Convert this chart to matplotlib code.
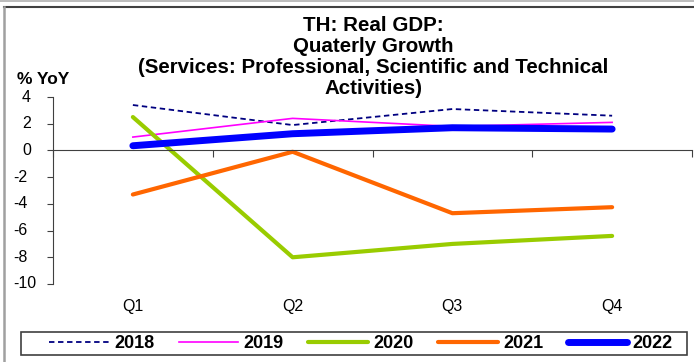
import numpy as np
import matplotlib.pyplot as plt
import matplotlib.transforms as mtransforms
from matplotlib.lines import Line2D
from matplotlib.patches import Rectangle

plt.rcParams['font.family'] = ['Liberation Sans', 'DejaVu Sans']

quarters = ['Q1', 'Q2', 'Q3', 'Q4']
y2018 = [3.4, 1.9, 3.1, 2.6]
y2019 = [1.0, 2.4, 1.8, 2.1]
y2020 = [2.5, -8.0, -7.0, -6.4]
y2021 = [-3.3, -0.1, -4.7, -4.25]
y2022 = [0.35, 1.25, 1.7, 1.6]
yticks = [4, 2, 0, -2, -4, -6, -8, -10]
title_lines = ['TH: Real GDP:', 'Quaterly Growth',
               '(Services: Professional, Scientific and Technical', 'Activities)']

W, H = 694, 362
fig = plt.figure(figsize=(W / 100, H / 100), dpi=100)

def px(x, y):
    return x / W, 1 - y / H

# sheet frame lines
fig.add_artist(Line2D([0, 1], [1 - 1 / H] * 2, transform=fig.transFigure, color='#b0b0b0', lw=1.2))
fig.add_artist(Line2D([3.5 / W, 1], [1 - 7 / H] * 2, transform=fig.transFigure, color='#404040', lw=1.5))
fig.add_artist(Line2D([3.5 / W] * 2, [0, 1 - 7 / H], transform=fig.transFigure, color='#a0a0a0', lw=1.8))

ax = fig.add_axes([53 / W, 1 - 284 / H, (692 - 53) / W, (284 - 97) / H])

x = np.arange(len(quarters))
ax.plot(x, y2018, color='#000080', lw=1.3, ls=(0, (3, 2)), label='2018')
ax.plot(x, y2019, color='#FF00FF', lw=1.2, label='2019')
ax.plot(x, y2020, color='#99CC00', lw=3, label='2020', solid_capstyle='round')
ax.plot(x, y2021, color='#FF6600', lw=3, label='2021', solid_capstyle='round')
ax.plot(x, y2022, color='#0000FF', lw=5, label='2022', solid_capstyle='round')

ax.set_xlim(-0.5, 3.5)
ax.set_ylim(-10, 4)
ax.set_yticks(yticks)
ax.set_yticklabels([])
ax.tick_params(axis='y', length=4, color='#404040')

ax.spines['top'].set_visible(False)
ax.spines['right'].set_visible(False)
ax.spines['left'].set_color('#404040')
ax.spines['bottom'].set_position(('data', 0))
ax.spines['bottom'].set_color('#404040')
ax.set_xticks(np.arange(-0.5, 4, 1))
ax.set_xticklabels([])
ax.tick_params(axis='x', length=5, color='#404040')

# y tick labels, left aligned like the original
ytr = mtransforms.blended_transform_factory(fig.transFigure, ax.transData)
for v in yticks:
    xpos = 13 if v < 0 else 22
    ax.text(xpos / W, v, str(v), transform=ytr, ha='left', va='center', fontsize=11.5)

# category labels below the plot
xtr = mtransforms.blended_transform_factory(ax.transData, fig.transFigure)
for i, q in enumerate(quarters):
    ax.text(i, 1 - 306 / H, q, transform=xtr, ha='center', va='center', fontsize=11.5)

for k, line in enumerate(title_lines):
    fig.text(*px(373, 31 + 21 * k), line, ha='center', va='baseline',
             fontsize=14.8, fontweight='bold')
fig.text(*px(17, 84), '% YoY', ha='left', va='baseline', fontsize=12.5, fontweight='bold')

# legend box and entries
fig.add_artist(Rectangle(px(21, 355), (687 - 21) / W, 23 / H, transform=fig.transFigure,
                         fill=False, edgecolor='#404040', lw=1.2))
leg = fig.legend(loc='center', bbox_to_anchor=px(361, 344), ncol=5, frameon=False,
                 borderaxespad=0, borderpad=0, prop={'weight': 'bold', 'size': 13},
                 handlelength=3.3, handletextpad=0.3, columnspacing=1.35)

fig.savefig('out.png', dpi=100)
